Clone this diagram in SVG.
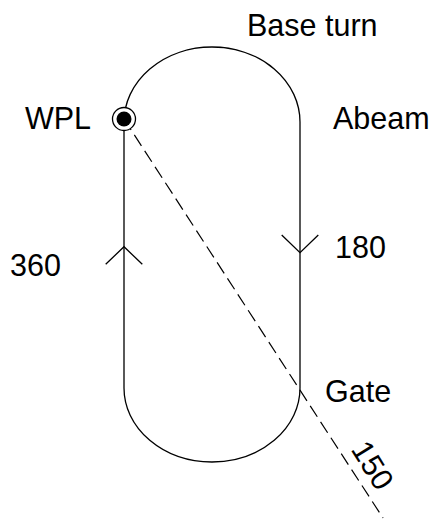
<svg xmlns="http://www.w3.org/2000/svg" width="433" height="522" viewBox="0 0 433 522">
<style>
.ln{fill:none;stroke:#000;stroke-width:1.3}
.dash{fill:none;stroke:#000;stroke-width:1.2;stroke-dasharray:13,6}
.t{font-family:"Liberation Sans",Arial,sans-serif;font-size:30.5px;fill:#000}
</style>
<rect width="433" height="522" fill="#fff"/>
<g id="connectors">
<path class="ln" d="M124,122 A88,75 0 0 1 300,122 L300,388 A88,74 0 0 1 124,388 Z"/>
<line class="dash" x1="124" y1="119" x2="383" y2="518"/>
<polyline class="ln" points="105.7,264.3 124,246.7 142.3,264.3"/>
<polyline class="ln" points="281.7,235 300,252.7 318.3,235"/>
</g>
<g id="wpl">
<circle cx="124" cy="119" r="11.5" fill="#fff" stroke="#000" stroke-width="1.3"/>
<circle cx="124" cy="119" r="7.5" fill="#000"/>
<text class="t" x="91" y="129" text-anchor="end">WPL</text>
</g>
<g id="base-turn"><text class="t" x="247" y="36">Base turn</text></g>
<g id="abeam"><text class="t" x="333" y="129">Abeam</text></g>
<g id="h360"><text class="t" x="10" y="276">360</text></g>
<g id="h180"><text class="t" x="335" y="258">180</text></g>
<g id="gate"><text class="t" x="325" y="402">Gate</text></g>
<g id="h150"><text class="t" text-anchor="middle" transform="translate(373,465) rotate(58)" y="11">150</text></g>
</svg>
